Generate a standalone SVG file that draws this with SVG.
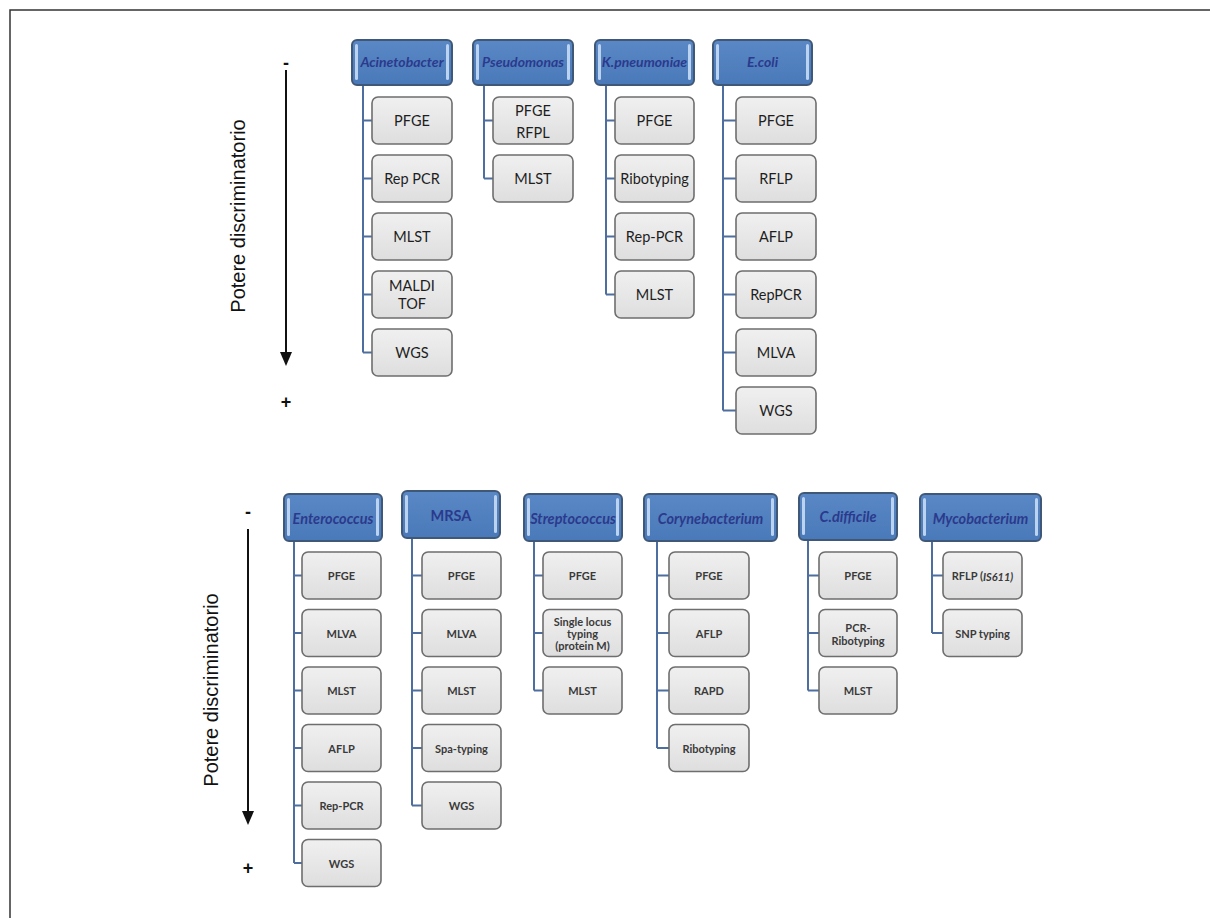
<svg xmlns="http://www.w3.org/2000/svg" width="1210" height="918" viewBox="0 0 1210 918">
<defs>
<linearGradient id="gBox" x1="0" y1="0" x2="0" y2="1">
<stop offset="0" stop-color="#f0f0f0"/>
<stop offset="1" stop-color="#dedede"/>
</linearGradient>
<linearGradient id="gHead" x1="0" y1="0" x2="0" y2="1">
<stop offset="0" stop-color="#5a88c6"/>
<stop offset="1" stop-color="#4a79b9"/>
</linearGradient>
</defs>
<style>
.frame{fill:none;stroke:#333;stroke-width:1.5}
.head{fill:url(#gHead);stroke:#3f5878;stroke-width:2}
.hl{fill:#bcd3ef}
.box{fill:url(#gBox);stroke:#6e6e6e;stroke-width:1.6}
.conn{fill:none;stroke:#4d6e9e;stroke-width:2}
.ht{font-family:Lato,"Open Sans",sans-serif;font-style:italic;font-weight:bold;fill:#2b3a8c;text-anchor:middle;dominant-baseline:central}
.up{font-style:normal}
.t1{font-family:Lato,"Open Sans",sans-serif;font-size:14.5px;fill:#1e1e1e;text-anchor:middle;dominant-baseline:central}
.t2{font-family:Lato,"Open Sans",sans-serif;font-size:11px;font-weight:bold;fill:#3a3a3a;text-anchor:middle;dominant-baseline:central}
.lab{font-family:"Liberation Sans",Arial,sans-serif;font-size:20px;fill:#111;text-anchor:middle;dominant-baseline:central}
.sg{font-family:"Liberation Sans",Arial,sans-serif;font-size:18px;font-weight:bold;fill:#111;text-anchor:middle;dominant-baseline:central}
.axis{stroke:#111;stroke-width:2;fill:none}
</style>
<rect width="1210" height="918" fill="#fff"/>
<path class="frame" d="M10,918 L10,10 L1210,10"/>

<!-- axes -->
<g id="axis-top">
<text class="sg" x="286" y="63">-</text>
<line class="axis" x1="286" y1="70" x2="286" y2="354"/>
<path d="M280,352 L292,352 L286,366 Z" fill="#111"/>
<text class="sg" x="286" y="402">+</text>
<text class="lab" transform="translate(238,216) rotate(-90)">Potere discriminatorio</text>
</g>
<g id="axis-bottom">
<text class="sg" x="248" y="512">-</text>
<line class="axis" x1="248" y1="529" x2="248" y2="813"/>
<path d="M242,811 L254,811 L248,825 Z" fill="#111"/>
<text class="sg" x="248" y="868">+</text>
<text class="lab" transform="translate(211,690) rotate(-90)">Potere discriminatorio</text>
</g>

<!-- connectors -->
<g id="connectors">
<path class="conn" d="M363,85 V352.5 M363,120.5 H372 M363,178.5 H372 M363,236.5 H372 M363,294.5 H372 M363,352.5 H372"/>
<path class="conn" d="M484,85 V178.5 M484,120.5 H493 M484,178.5 H493"/>
<path class="conn" d="M606,85 V294.5 M606,120.5 H615 M606,178.5 H615 M606,236.5 H615 M606,294.5 H615"/>
<path class="conn" d="M723,85 V410.5 M723,120.5 H736 M723,178.5 H736 M723,236.5 H736 M723,294.5 H736 M723,352.5 H736 M723,410.5 H736"/>
<path class="conn" d="M294,541 V863 M294,575.5 H302 M294,633 H302 M294,690.5 H302 M294,748 H302 M294,805.5 H302 M294,863 H302"/>
<path class="conn" d="M412,538 V805.5 M412,575.5 H422 M412,633 H422 M412,690.5 H422 M412,748 H422 M412,805.5 H422"/>
<path class="conn" d="M534,541 V690.5 M534,575.5 H543 M534,633 H543 M534,690.5 H543"/>
<path class="conn" d="M657,541 V748 M657,575.5 H669 M657,633 H669 M657,690.5 H669 M657,748 H669"/>
<path class="conn" d="M808,540 V690.5 M808,575.5 H819 M808,633 H819 M808,690.5 H819"/>
<path class="conn" d="M932,542 V633 M932,575.5 H943 M932,633 H943"/>
</g>

<!-- top section -->
<g id="acinetobacter">
<rect class="head" x="352" y="40" width="100" height="45" rx="5"/>
<rect class="hl" x="355" y="44" width="3" height="36" rx="1.5"/><rect class="hl" x="446" y="44" width="3" height="36" rx="1.5"/>
<text class="ht" x="402" y="61" font-size="14">Acinetobacter</text>
</g>
<g id="acin-pfge"><rect class="box" x="372" y="97" width="80" height="47" rx="6"/><text class="t1" x="412" y="120.5">PFGE</text></g>
<g id="acin-rep"><rect class="box" x="372" y="155" width="80" height="47" rx="6"/><text class="t1" x="412" y="178.5">Rep PCR</text></g>
<g id="acin-mlst"><rect class="box" x="372" y="213" width="80" height="47" rx="6"/><text class="t1" x="412" y="236.5">MLST</text></g>
<g id="acin-maldi"><rect class="box" x="372" y="271" width="80" height="47" rx="6"/><text class="t1" x="412" y="285">MALDI</text><text class="t1" x="412" y="303">TOF</text></g>
<g id="acin-wgs"><rect class="box" x="372" y="329" width="80" height="47" rx="6"/><text class="t1" x="412" y="352.5">WGS</text></g>

<g id="pseudomonas">
<rect class="head" x="473" y="40" width="100" height="45" rx="5"/>
<rect class="hl" x="476" y="44" width="3" height="36" rx="1.5"/><rect class="hl" x="567" y="44" width="3" height="36" rx="1.5"/>
<text class="ht" x="523" y="61" font-size="14">Pseudomonas</text>
</g>
<g id="pseu-pfge"><rect class="box" x="493" y="97" width="80" height="47" rx="6"/><text class="t1" x="533" y="110">PFGE</text><text class="t1" x="533" y="132">RFPL</text></g>
<g id="pseu-mlst"><rect class="box" x="493" y="155" width="80" height="47" rx="6"/><text class="t1" x="533" y="178.5">MLST</text></g>

<g id="kpneumoniae">
<rect class="head" x="595" y="40" width="99" height="45" rx="5"/>
<rect class="hl" x="598" y="44" width="3" height="36" rx="1.5"/><rect class="hl" x="688" y="44" width="3" height="36" rx="1.5"/>
<text class="ht" x="644.5" y="61" font-size="14">K.pneumoniae</text>
</g>
<g id="kp-pfge"><rect class="box" x="615" y="97" width="79" height="47" rx="6"/><text class="t1" x="654.5" y="120.5">PFGE</text></g>
<g id="kp-ribo"><rect class="box" x="615" y="155" width="79" height="47" rx="6"/><text class="t1" x="654.5" y="178.5">Ribotyping</text></g>
<g id="kp-rep"><rect class="box" x="615" y="213" width="79" height="47" rx="6"/><text class="t1" x="654.5" y="236.5">Rep-PCR</text></g>
<g id="kp-mlst"><rect class="box" x="615" y="271" width="79" height="47" rx="6"/><text class="t1" x="654.5" y="294.5">MLST</text></g>

<g id="ecoli">
<rect class="head" x="713" y="40" width="99" height="45" rx="5"/>
<rect class="hl" x="716" y="44" width="3" height="36" rx="1.5"/><rect class="hl" x="806" y="44" width="3" height="36" rx="1.5"/>
<text class="ht" x="762.5" y="61" font-size="14">E.coli</text>
</g>
<g id="ec-pfge"><rect class="box" x="736" y="97" width="80" height="47" rx="6"/><text class="t1" x="776" y="120.5">PFGE</text></g>
<g id="ec-rflp"><rect class="box" x="736" y="155" width="80" height="47" rx="6"/><text class="t1" x="776" y="178.5">RFLP</text></g>
<g id="ec-aflp"><rect class="box" x="736" y="213" width="80" height="47" rx="6"/><text class="t1" x="776" y="236.5">AFLP</text></g>
<g id="ec-rep"><rect class="box" x="736" y="271" width="80" height="47" rx="6"/><text class="t1" x="776" y="294.5">RepPCR</text></g>
<g id="ec-mlva"><rect class="box" x="736" y="329" width="80" height="47" rx="6"/><text class="t1" x="776" y="352.5">MLVA</text></g>
<g id="ec-wgs"><rect class="box" x="736" y="387" width="80" height="47" rx="6"/><text class="t1" x="776" y="410.5">WGS</text></g>

<!-- bottom section -->
<g id="enterococcus">
<rect class="head" x="284" y="494" width="98" height="47" rx="5"/>
<rect class="hl" x="287" y="498" width="3" height="38" rx="1.5"/><rect class="hl" x="376" y="498" width="3" height="38" rx="1.5"/>
<text class="ht" x="333" y="518" font-size="14.5">Enterococcus</text>
</g>
<g id="ent-pfge"><rect class="box" x="302" y="552" width="79" height="47" rx="6"/><text class="t2" x="341.5" y="575.5">PFGE</text></g>
<g id="ent-mlva"><rect class="box" x="302" y="609.5" width="79" height="47" rx="6"/><text class="t2" x="341.5" y="633">MLVA</text></g>
<g id="ent-mlst"><rect class="box" x="302" y="667" width="79" height="47" rx="6"/><text class="t2" x="341.5" y="690.5">MLST</text></g>
<g id="ent-aflp"><rect class="box" x="302" y="724.5" width="79" height="47" rx="6"/><text class="t2" x="341.5" y="748">AFLP</text></g>
<g id="ent-rep"><rect class="box" x="302" y="782" width="79" height="47" rx="6"/><text class="t2" x="341.5" y="805.5">Rep-PCR</text></g>
<g id="ent-wgs"><rect class="box" x="302" y="839.5" width="79" height="47" rx="6"/><text class="t2" x="341.5" y="863">WGS</text></g>

<g id="mrsa">
<rect class="head" x="402" y="491" width="98" height="47" rx="5"/>
<rect class="hl" x="405" y="495" width="3" height="38" rx="1.5"/><rect class="hl" x="494" y="495" width="3" height="38" rx="1.5"/>
<text class="ht up" x="451" y="515" font-size="14.5">MRSA</text>
</g>
<g id="mrsa-pfge"><rect class="box" x="422" y="552" width="79" height="47" rx="6"/><text class="t2" x="461.5" y="575.5">PFGE</text></g>
<g id="mrsa-mlva"><rect class="box" x="422" y="609.5" width="79" height="47" rx="6"/><text class="t2" x="461.5" y="633">MLVA</text></g>
<g id="mrsa-mlst"><rect class="box" x="422" y="667" width="79" height="47" rx="6"/><text class="t2" x="461.5" y="690.5">MLST</text></g>
<g id="mrsa-spa"><rect class="box" x="422" y="724.5" width="79" height="47" rx="6"/><text class="t2" x="461.5" y="748">Spa-typing</text></g>
<g id="mrsa-wgs"><rect class="box" x="422" y="782" width="79" height="47" rx="6"/><text class="t2" x="461.5" y="805.5">WGS</text></g>

<g id="streptococcus">
<rect class="head" x="524" y="494" width="98" height="47" rx="5"/>
<rect class="hl" x="527" y="498" width="3" height="38" rx="1.5"/><rect class="hl" x="616" y="498" width="3" height="38" rx="1.5"/>
<text class="ht" x="573" y="518" font-size="14.5">Streptococcus</text>
</g>
<g id="str-pfge"><rect class="box" x="543" y="552" width="79" height="47" rx="6"/><text class="t2" x="582.5" y="575.5">PFGE</text></g>
<g id="str-sl"><rect class="box" x="543" y="609.5" width="79" height="47" rx="6"/><text class="t2" x="582.5" y="621">Single locus</text><text class="t2" x="582.5" y="633">typing</text><text class="t2" x="582.5" y="645">(protein M)</text></g>
<g id="str-mlst"><rect class="box" x="543" y="667" width="79" height="47" rx="6"/><text class="t2" x="582.5" y="690.5">MLST</text></g>

<g id="corynebacterium">
<rect class="head" x="644" y="494" width="133" height="47" rx="5"/>
<rect class="hl" x="647" y="498" width="3" height="38" rx="1.5"/><rect class="hl" x="771" y="498" width="3" height="38" rx="1.5"/>
<text class="ht" x="710.5" y="518" font-size="14.5">Corynebacterium</text>
</g>
<g id="cor-pfge"><rect class="box" x="669" y="552" width="80" height="47" rx="6"/><text class="t2" x="709" y="575.5">PFGE</text></g>
<g id="cor-aflp"><rect class="box" x="669" y="609.5" width="80" height="47" rx="6"/><text class="t2" x="709" y="633">AFLP</text></g>
<g id="cor-rapd"><rect class="box" x="669" y="667" width="80" height="47" rx="6"/><text class="t2" x="709" y="690.5">RAPD</text></g>
<g id="cor-ribo"><rect class="box" x="669" y="724.5" width="80" height="47" rx="6"/><text class="t2" x="709" y="748">Ribotyping</text></g>

<g id="cdifficile">
<rect class="head" x="799" y="493" width="98" height="47" rx="5"/>
<rect class="hl" x="802" y="497" width="3" height="38" rx="1.5"/><rect class="hl" x="891" y="497" width="3" height="38" rx="1.5"/>
<text class="ht" x="848" y="516" font-size="14.5">C.difficile</text>
</g>
<g id="cd-pfge"><rect class="box" x="819" y="552" width="78" height="47" rx="6"/><text class="t2" x="858" y="575.5">PFGE</text></g>
<g id="cd-pcr"><rect class="box" x="819" y="609.5" width="78" height="47" rx="6"/><text class="t2" x="858" y="627">PCR-</text><text class="t2" x="858" y="640">Ribotyping</text></g>
<g id="cd-mlst"><rect class="box" x="819" y="667" width="78" height="47" rx="6"/><text class="t2" x="858" y="690.5">MLST</text></g>

<g id="mycobacterium">
<rect class="head" x="920" y="494" width="121" height="47" rx="5"/>
<rect class="hl" x="923" y="498" width="3" height="38" rx="1.5"/><rect class="hl" x="1035" y="498" width="3" height="38" rx="1.5"/>
<text class="ht" x="980.5" y="518" font-size="14.5">Mycobacterium</text>
</g>
<g id="my-rflp"><rect class="box" x="943" y="552" width="79" height="47" rx="6"/><text class="t2" x="982.5" y="575.5">RFLP (<tspan font-style="italic">IS611)</tspan></text></g>
<g id="my-snp"><rect class="box" x="943" y="609.5" width="79" height="47" rx="6"/><text class="t2" x="982.5" y="633">SNP typing</text></g>
</svg>
